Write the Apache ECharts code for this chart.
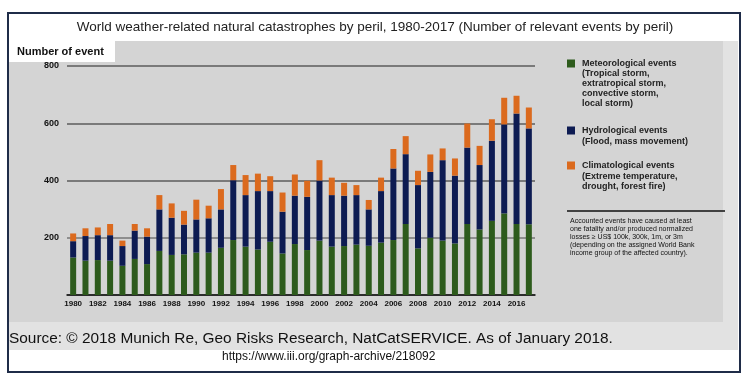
<!DOCTYPE html>
<html>
<head>
<meta charset="utf-8">
<script src="https://cdn.jsdelivr.net/npm/echarts@6/dist/echarts.min.js"></script>
<style>html,body{margin:0;padding:0;background:#fff}#c{width:750px;height:380px}</style>
</head>
<body>
<div id="c"></div>
<script>
var years = ['1980','1981','1982','1983','1984','1985','1986','1987','1988','1989','1990','1991','1992','1993','1994','1995','1996','1997','1998','1999','2000','2001','2002','2003','2004','2005','2006','2007','2008','2009','2010','2011','2012','2013','2014','2015','2016','2017'];
var meteorological = [131,120,122,120,102,126,108,154,140,142,148,148,165,192,169,159,186,145,178,157,190,169,171,176,172,183,192,248,163,200,190,180,248,229,259,285,248,247];
var hydrological = [57,86,87,89,69,99,96,145,130,104,116,120,134,209,180,204,177,146,169,186,210,180,176,173,127,180,250,244,221,230,281,237,267,225,280,311,386,335];
var climatological = [27,27,27,39,19,23,29,50,50,48,69,44,71,53,70,61,52,67,74,56,71,61,45,35,33,47,68,63,50,61,41,60,84,67,75,93,62,73];
var yTicks = [0,200,400,600,800];
var seriesNames = ['Meteorological events','Hydrological events','Climatological events'];
var seriesDesc = ['(Tropical storm,\nextratropical storm,\nconvective storm,\nlocal storm)','(Flood, mass movement)','(Extreme temperature,\ndrought, forest fire)'];
var colors = ['#2d5b1c','#0d1b52','#db6a1e'];
var titleText = 'World weather-related natural catastrophes by peril, 1980-2017 (Number of relevant events by peril)';
var yName = 'Number of event';
var noteText = 'Accounted events have caused at least\none fatality and/or produced normalized\nlosses \u2265 US$ 100k, 300k, 1m, or 3m\n(depending on the assigned World Bank\nincome group of the affected country).';
var sourceText = 'Source: \u00a9 2018 Munich Re, Geo Risks Research, NatCatSERVICE. As of January 2018.';
var urlText = 'https://www.iii.org/graph-archive/218092';

var chart = echarts.init(document.getElementById('c'), null, {renderer:'canvas'});
var dataSets = [meteorological, hydrological, climatological];
var legendTops = [59, 126, 161];
var descTops = [69, 137, 172];

var graphics = [
  {type:'rect', z:-20, shape:{x:9,y:41,width:729,height:309}, style:{fill:'#e2e2e2'}},
  {type:'rect', z:-19, shape:{x:9,y:41,width:714,height:281}, style:{fill:'#d4d4d4'}},
  {type:'rect', z:-18, shape:{x:9,y:39,width:106,height:23}, style:{fill:'#ffffff'}},
  {type:'rect', z:50, shape:{x:8,y:13,width:732,height:359}, style:{fill:null, stroke:'#1f2c48', lineWidth:2}},
  {type:'text', z:60, left:17, top:46, style:{text:yName, font:'bold 11px "Liberation Sans", Arial, sans-serif', fill:'#111'}},
  {type:'line', z:60, shape:{x1:567,y1:211,x2:725,y2:211}, style:{stroke:'#111', lineWidth:1.5}},
  {type:'text', z:60, left:570, top:217, style:{text:noteText, font:'7px "Liberation Sans", Arial, sans-serif', fill:'#111', lineHeight:8}},
  {type:'text', z:60, left:9, top:331, style:{text:sourceText, font:'15.4px "Liberation Sans", Arial, sans-serif', fill:'#111'}},
  {type:'text', z:60, left:222, top:351, style:{text:urlText, font:'12px "Liberation Sans", Arial, sans-serif', fill:'#111'}}
];
for (var i=0;i<3;i++){
  graphics.push({type:'text', z:60, left:582, top:descTops[i], style:{text:seriesDesc[i], font:'bold 9px "Liberation Sans", Arial, sans-serif', fill:'#222', lineHeight:9.8}});
}

var legends = seriesNames.map(function(n,i){
  return {data:[n], orient:'vertical', left:567, top:legendTops[i], padding:0, icon:'rect', itemWidth:8, itemHeight:8, itemGap:4,
    textStyle:{fontFamily:'"Liberation Sans", Arial, sans-serif', fontWeight:'bold', fontSize:9, color:'#222', padding:[0,0,0,2]}, selectedMode:false};
});

var series = seriesNames.map(function(n,i){
  return {name:n, type:'bar', stack:'total', data:dataSets[i], barWidth:6,
    itemStyle:{color:colors[i]}, animation:false};
});

chart.setOption({
  backgroundColor:'#ffffff',
  animation:false,
  title:{text:titleText, left:'center', top:15, textStyle:{fontFamily:'"Liberation Sans",Arial,sans-serif', fontWeight:'normal', fontSize:13.5, color:'#222'}},
  legend:legends,
  graphic:graphics,
  grid:{left:67, right:215, top:66, bottom:85, containLabel:false},
  xAxis:{type:'category', data:years,
    axisLine:{lineStyle:{color:'#111', width:1.5}},
    axisTick:{interval:0, length:3, lineStyle:{color:'#111'}},
    axisLabel:{interval:1, margin:5, fontFamily:'"Liberation Sans", Arial, sans-serif', fontWeight:'bold', fontSize:8, color:'#111'}},
  yAxis:{type:'value', min:yTicks[0], max:yTicks[yTicks.length-1], interval:200,
    axisLine:{show:false}, axisTick:{show:false},
    axisLabel:{margin:8, showMinLabel:false, fontFamily:'"Liberation Sans", Arial, sans-serif', fontWeight:'bold', fontSize:9, color:'#111'},
    splitLine:{lineStyle:{color:['#808080','#8e8e8e','#7a7a7a','#7a7a7a','#7a7a7a'], width:1.8}}},
  series:series
});
</script>
</body>
</html>
